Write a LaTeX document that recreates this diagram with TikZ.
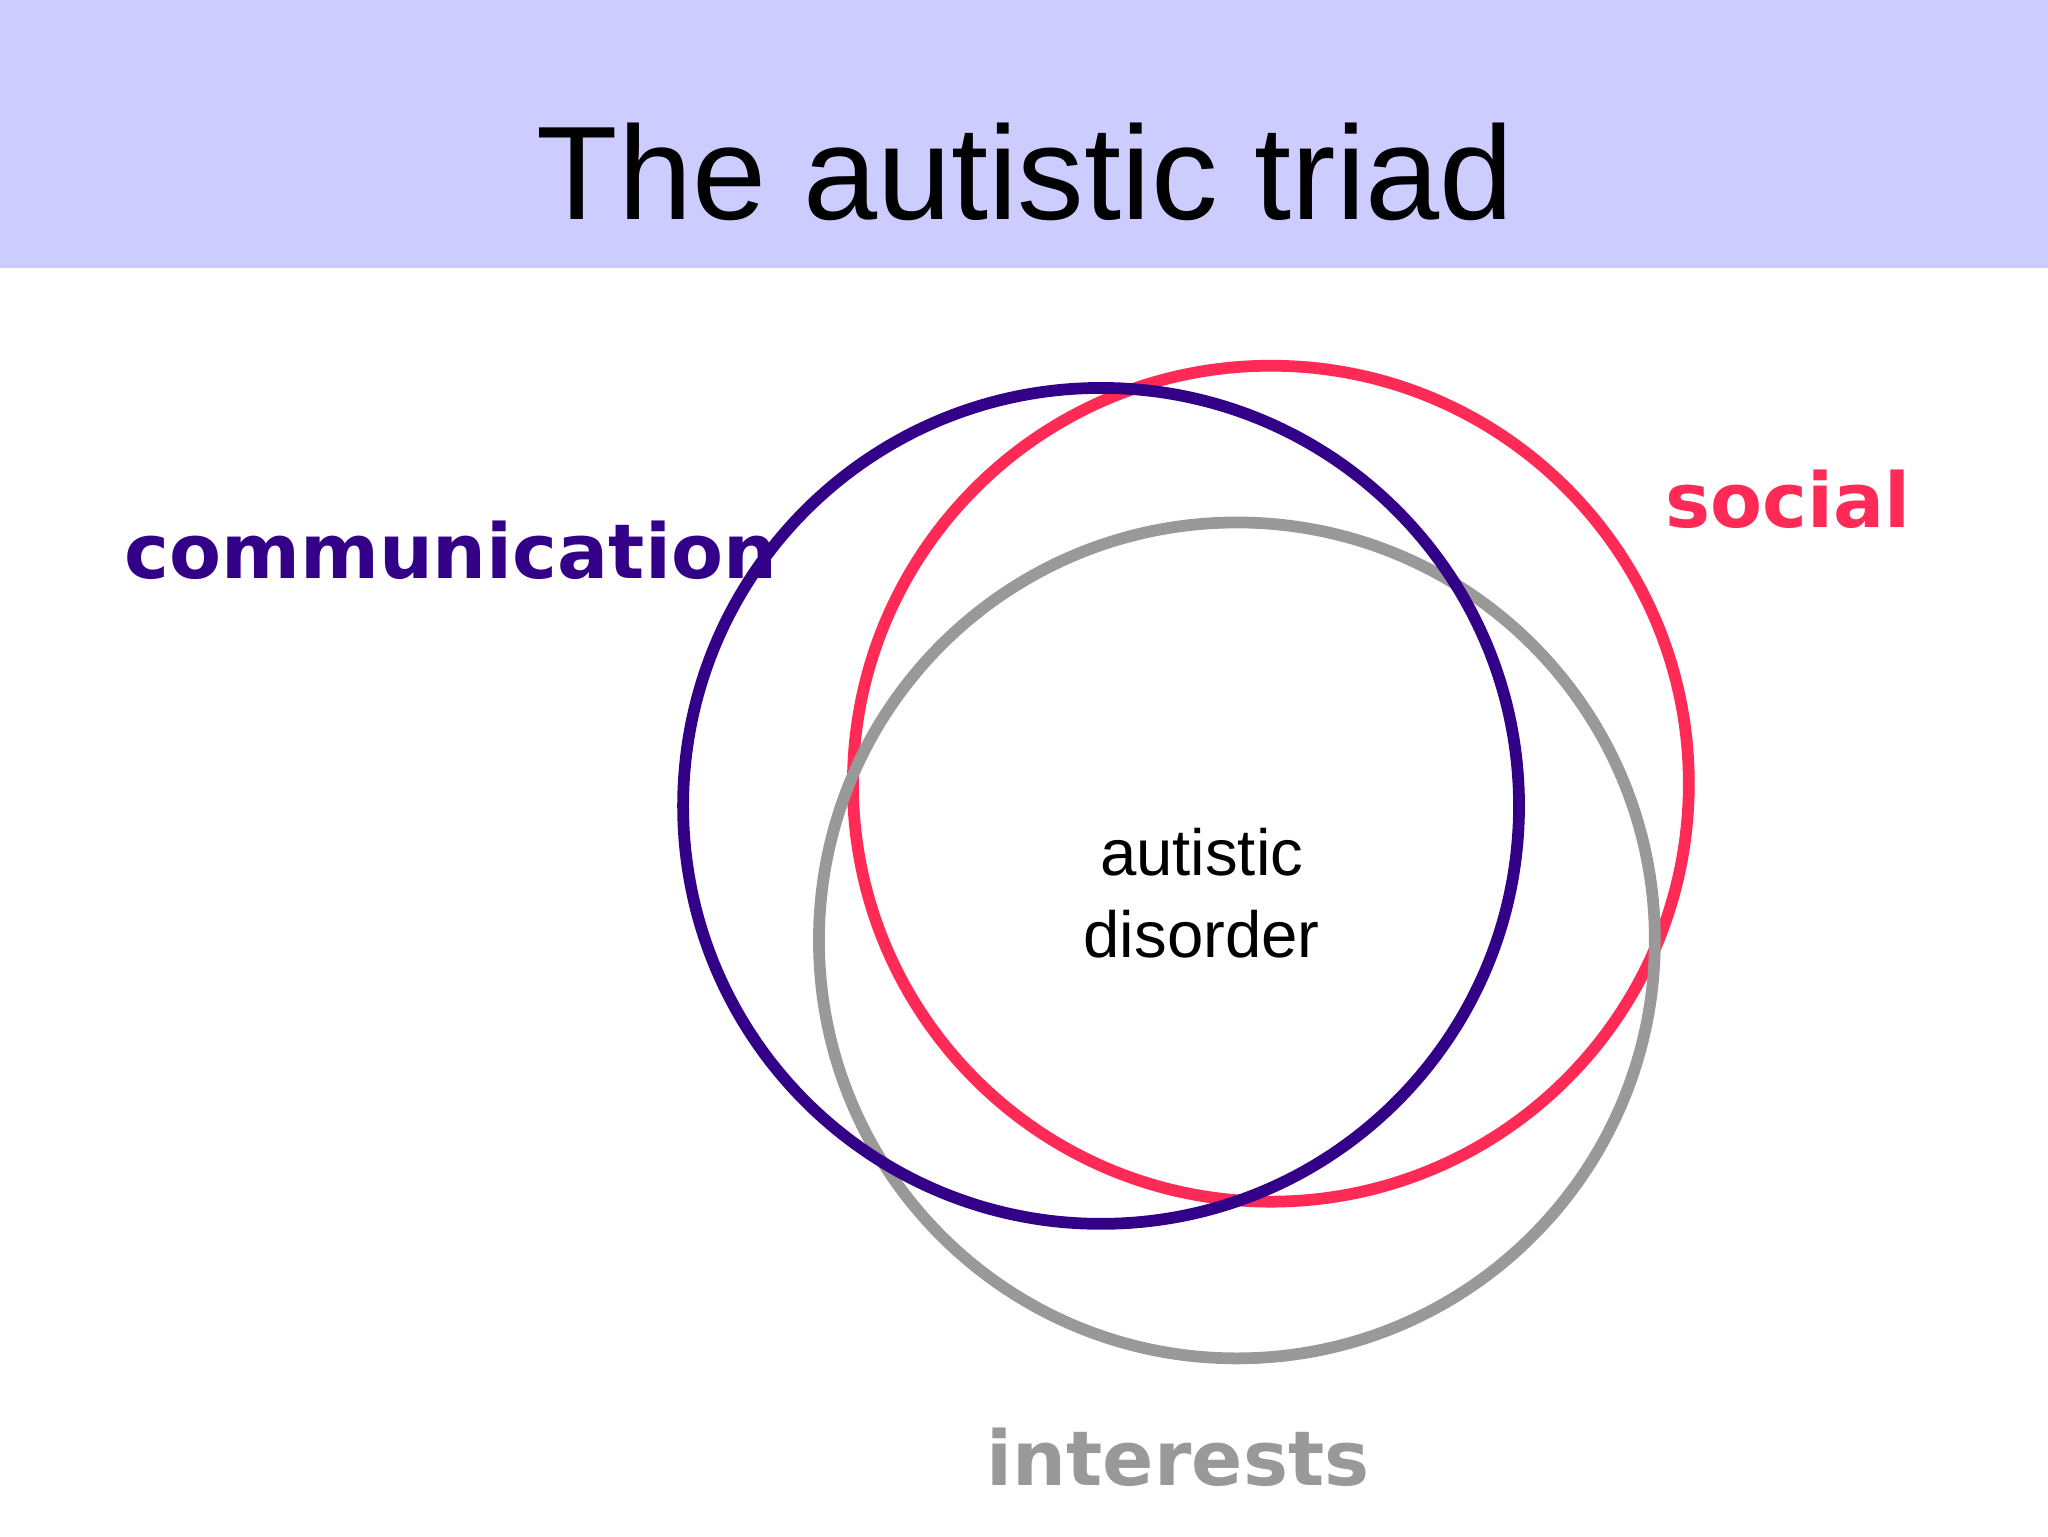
\documentclass[tikz,border=0pt]{standalone}
\usepackage{fontspec}
\setmainfont{Liberation Sans}
\newfontfamily\boldf{DejaVu Sans}
\begin{document}
\begin{tikzpicture}[x=1pt,y=-1pt]
\useasboundingbox (0,0) rectangle (1568,1176);
\definecolor{hdr}{HTML}{CCCCFF}
\definecolor{purp}{HTML}{330088}
\definecolor{redc}{HTML}{FF2A55}
\definecolor{grayc}{HTML}{999999}
\tikzset{ring/.style={line width=9pt}, lab/.style={inner sep=0pt, anchor=base}}
\fill[hdr] (0,0) rectangle (1568,205);
\node[lab] (title) at (785,168) {\fontsize{102}{110}\selectfont The autistic triad};
\draw[ring, redc] (973,600) circle (320);
\draw[ring, grayc] (947,720) circle (320);
\draw[ring, purp] (843,617) circle (320);
\node[lab, text=purp] (comm) at (345,443) {\boldf\bfseries\fontsize{58}{64}\selectfont communication};
\node[lab, text=redc] (soc) at (1369,404) {\boldf\bfseries\fontsize{58}{64}\selectfont social};
\node[lab, text=grayc] (int) at (902,1137) {\boldf\bfseries\fontsize{58}{64}\selectfont interests};
\node[lab] (ad1) at (920,670) {\fontsize{50}{60}\selectfont autistic};
\node[lab] (ad2) at (920,733) {\fontsize{50}{60}\selectfont disorder};
\end{tikzpicture}
\end{document}
